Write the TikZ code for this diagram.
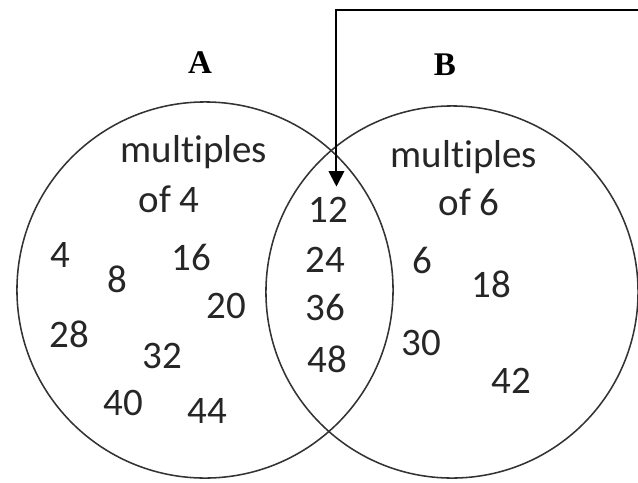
\documentclass[tikz,border=0pt]{standalone}
\usepackage{fontspec}
\setmainfont{Carlito}[Ligatures=NoCommon]
\newfontfamily\setlabelfont{Liberation Serif}
\usetikzlibrary{arrows.meta}
\definecolor{ringgray}{HTML}{333333}

\begin{document}
\begin{tikzpicture}[x=0.025cm, y=-0.025cm, >={Triangle[length=11pt, width=11pt]}]
  \useasboundingbox (0,0) rectangle (638,482);
  \tikzset{
    num/.style={anchor=base, inner sep=1pt, text=black!85, font=\fontsize{27.7}{30}\selectfont},
    setname/.style={anchor=base, inner sep=1pt, font=\setlabelfont\bfseries\fontsize{23.5}{24}\selectfont},
    ring/.style={draw=ringgray, line width=1.1pt, circle}
  }
  % the two sets
  \node[ring, minimum size=9.4cm] (setA) at (205,290) {};
  \node[ring, minimum size=9.3cm] (setB) at (452,292) {};
  \node[setname] (nameA) at (200,73) {A};
  \node[setname] (nameB) at (445,75) {B};

  % A only
  \node[num] (titleA) at (194,162) {multiples};
  \node[num] (ofA) at (169,212) {of 4};
  \node[num] (n4) at (60,267) {4};
  \node[num] (n8) at (117,292) {8};
  \node[num] (n16) at (191,270) {16};
  \node[num] (n20) at (226,318) {20};
  \node[num] (n28) at (69,347) {28};
  \node[num] (n32) at (162,368) {32};
  \node[num] (n40) at (123,415) {40};
  \node[num] (n44) at (207,423) {44};

  % both
  \node[num] (n12) at (328,222) {12};
  \node[num] (n24) at (325,272) {24};
  \node[num] (n36) at (325,320) {36};
  \node[num] (n48) at (327,372) {48};

  % B only
  \node[num] (titleB) at (464,167) {multiples};
  \node[num] (ofB) at (469,215) {of 6};
  \node[num] (n6) at (422,273) {6};
  \node[num] (n18) at (491,297) {18};
  \node[num] (n30) at (421,355) {30};
  \node[num] (n42) at (511,393) {42};

  % pointer into the overlap
  \coordinate (start) at (638,10);
  \draw[->, line width=1.4pt] (start) -| ([xshift=6pt, yshift=6pt]n12.north);
\end{tikzpicture}
\end{document}
